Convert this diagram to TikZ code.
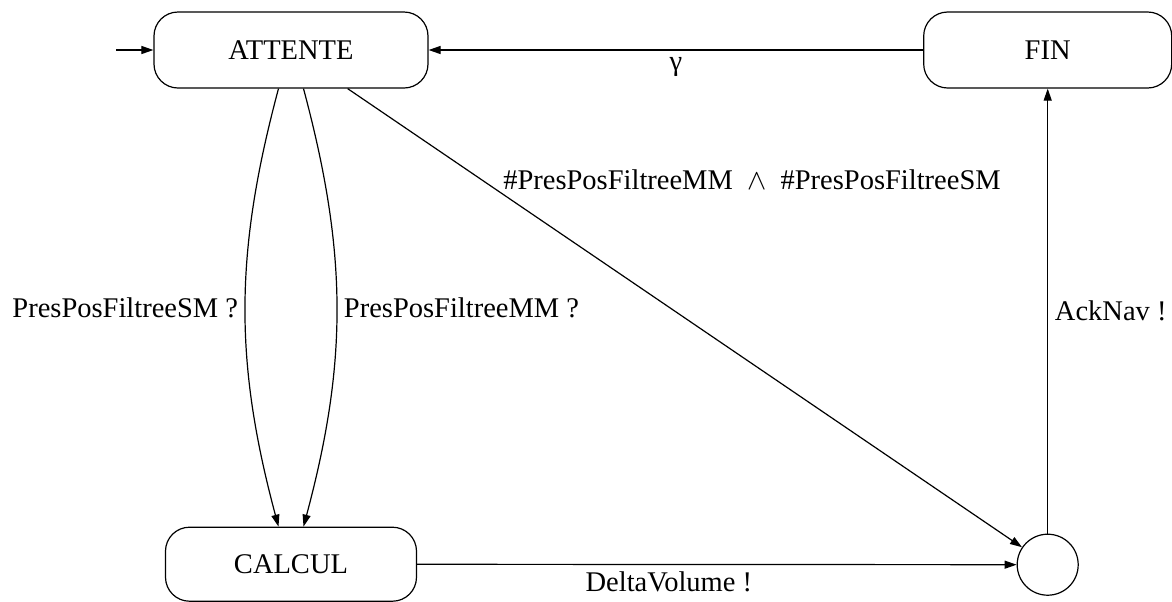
\documentclass[tikz,border=0pt]{standalone}
\usepackage{fontspec}
\setmainfont{LiberationSerif}[Extension=.ttf, UprightFont=*-Regular, BoldFont=*-Bold, ItalicFont=*-Italic]
\usepackage{tikz}
\usetikzlibrary{arrows.meta, positioning, shapes.geometric}

\begin{document}
\begin{tikzpicture}[
            font=\rmfamily\fontsize{14.25pt}{17pt}\selectfont,
            node distance=219pt and 247.25pt,
            etat/.style={rectangle, draw=black, rounded corners=12pt, line width=0.6pt, minimum height=38pt, inner sep=0pt},
            rond/.style={circle, draw=black, line width=0.6pt, minimum size=30.5pt, inner sep=0pt},
            arrow/.style={-{Triangle[length=6pt, width=4pt]}, line width=0.6pt}
        ]
            \useasboundingbox (-145.5pt,25pt) rectangle (440.5pt,-275.5pt);

            \node[etat, minimum width=137pt] (attente) {ATTENTE};
            
            \node[etat, minimum width=124pt, right=of attente] (fin) {FIN};
            
            \node[etat, minimum width=125.5pt, minimum height=37pt, below=of attente] (calcul) {CALCUL};
            
            \node[rond, below=222.5pt of fin] (puits) {};
            
            \coordinate[left=18.5pt of attente] (init);
            
            \draw[arrow] (init) -- (attente);
            \draw[arrow] (fin) -- (attente) node[midway, below] {γ};
            \draw[arrow] ([xshift=-6.25pt]attente.south) to[bend right=15] node[left] {PresPosFiltreeSM ?} ([xshift=-6.25pt]calcul.north);
            \draw[arrow] ([xshift=6.25pt]attente.south) to[bend left=15] node[right] {PresPosFiltreeMM ?} ([xshift=6.25pt]calcul.north);
            \draw[arrow] (attente) -- (puits) node[pos=0.23, anchor=base west, inner sep=0pt, yshift=2.5pt] {\#PresPosFiltreeMM~~$\wedge$~~\#PresPosFiltreeSM};
            \draw[arrow] (calcul) -- (puits) node[pos=0.42, below] {DeltaVolume !};
            \draw[arrow] (puits) -- (fin) node[midway, right] {AckNav !};
        \end{tikzpicture}
\end{document}
